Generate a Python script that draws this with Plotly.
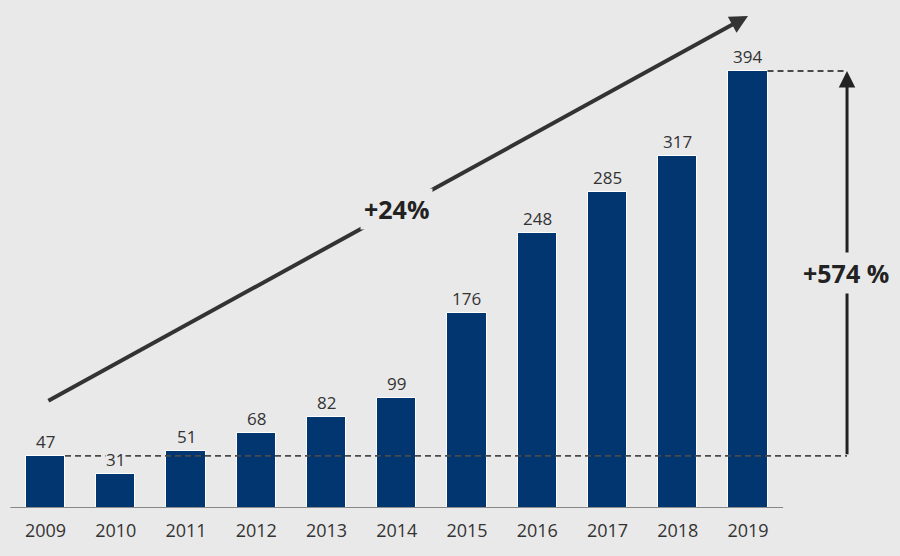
import plotly.graph_objects as go

years = ["2009", "2010", "2011", "2012", "2013", "2014", "2015", "2016", "2017", "2018", "2019"]
values = [47, 31, 51, 68, 82, 99, 176, 248, 285, 317, 394]
cagr_label = "+24%"
growth_label = "+574 %"

BG = "#e9e9e9"
BAR = "#023671"
TXT = "#333333"
FONT = "Open Sans, Noto Sans, sans-serif"

idx = list(range(len(years)))
half_w = 0.278
x_side = 11.41

fig = go.Figure()
fig.add_trace(go.Bar(
    x=idx, y=values, width=2 * half_w,
    marker=dict(color=BAR, line=dict(color="white", width=1)),
    hoverinfo="skip",
))

shapes = [
    # baseline axis line
    dict(type="line", xref="x", yref="y", x0=-0.5, x1=10.5, y0=0, y1=0,
         line=dict(color="#666666", width=1.5), layer="above"),
    # dashed reference lines
    dict(type="line", xref="x", yref="y", x0=idx[0] + half_w, x1=x_side,
         y0=values[0], y1=values[0],
         line=dict(color="#4a4a4a", width=1.8, dash="6px,4px"), layer="above"),
    dict(type="line", xref="x", yref="y", x0=idx[-1] + half_w, x1=x_side,
         y0=values[-1], y1=values[-1],
         line=dict(color="#4a4a4a", width=1.8, dash="6px,4px"), layer="above"),
]

annotations = []
# diagonal growth arrow
annotations.append(dict(
    x=10.0, y=443.5, xref="x", yref="y", ax=0.02, ay=96, axref="x", ayref="y",
    text="", showarrow=True, arrowhead=2, arrowsize=0.9, arrowwidth=4,
    arrowcolor="#333333", standoff=0, startstandoff=0,
))
# vertical arrow
annotations.append(dict(
    x=x_side, y=values[-1], xref="x", yref="y", ax=x_side, ay=values[0], axref="x", ayref="y",
    text="", showarrow=True, arrowhead=2, arrowsize=1.1, arrowwidth=3,
    arrowcolor="#222222", standoff=0, startstandoff=0,
))
# labels on arrows
annotations.append(dict(
    x=4.99, y=269.4, xref="x", yref="y", text="<b>" + cagr_label + "</b>",
    showarrow=False, font=dict(family=FONT, size=25, color="#222222"),
    bgcolor=BG, borderpad=3,
))
annotations.append(dict(
    x=11.39, y=212, xref="x", yref="y", text="<b>" + growth_label + "</b>",
    showarrow=False, font=dict(family=FONT, size=25, color="#222222"),
    bgcolor=BG, borderpad=3,
))
# value labels
for i, v in zip(idx, values):
    annotations.append(dict(
        x=i, y=v, xref="x", yref="y", text=str(v), showarrow=False,
        yanchor="bottom", yshift=2, font=dict(family=FONT, size=17, color=TXT),
        bgcolor=BG, borderpad=0,
    ))

fig.update_layout(
    width=900, height=556,
    margin=dict(l=0, r=0, t=0, b=48),
    paper_bgcolor=BG, plot_bgcolor=BG,
    showlegend=False,
    shapes=shapes, annotations=annotations,
    bargap=0,
    xaxis=dict(range=[-0.6477, 12.164], tickvals=idx, ticktext=years,
               showgrid=False, zeroline=False, showline=False,
               ticks="outside", ticklen=6, tickcolor="rgba(0,0,0,0)",
               tickfont=dict(family=FONT, size=18, color=TXT), fixedrange=True),
    yaxis=dict(range=[0, 458], showgrid=False, zeroline=False, showline=False,
               showticklabels=False, fixedrange=True),
)

fig.write_html("out.html")
